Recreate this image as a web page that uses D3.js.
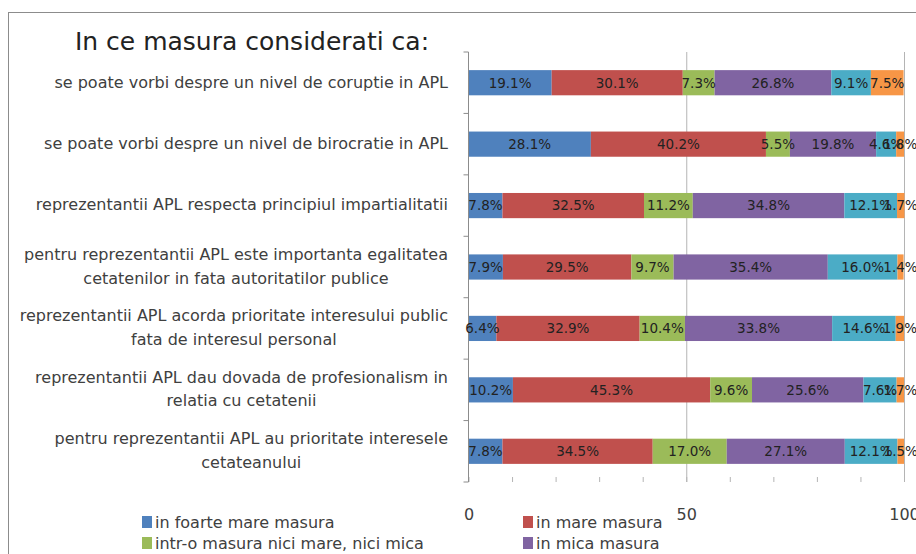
<!DOCTYPE html>
<html>
<head>
<meta charset="utf-8">
<script src="https://cdn.jsdelivr.net/npm/d3@7"></script>
<style>
  body { margin: 0; background: #fff; }
  svg { display: block; font-family: "DejaVu Sans", sans-serif; }
</style>
</head>
<body>
<svg width="916" height="554"></svg>
<script>
// categories, top to bottom (\n = line break like in the excel label)
const categories = [
    "se poate vorbi despre un nivel de coruptie in APL",
    "se poate vorbi despre un nivel de birocratie in APL",
    "reprezentantii APL respecta principiul impartialitatii",
    "pentru reprezentantii APL este importanta egalitatea\ncetatenilor in fata autoritatilor publice",
    "reprezentantii APL acorda prioritate interesului public\nfata de interesul personal",
    "reprezentantii APL dau dovada de profesionalism in\nrelatia cu cetatenii",
    "pentru reprezentantii APL au prioritate interesele\ncetateanului"
];

const seriesNames = [
    "in foarte mare masura",
    "in mare masura",
    "intr-o masura nici mare, nici mica",
    "in mica masura",
    "in foarte mica masura",
    "nu stiu / nu raspund"
];

// percent values per series, same order as categories
const foarteMare = [19.1, 28.1, 7.8, 7.9, 6.4, 10.2, 7.8];
const mare       = [30.1, 40.2, 32.5, 29.5, 32.9, 45.3, 34.5];
const niciNici   = [7.3, 5.5, 11.2, 9.7, 10.4, 9.6, 17.0];
const mica       = [26.8, 19.8, 34.8, 35.4, 33.8, 25.6, 27.1];
const foarteMica = [9.1, 4.6, 12.1, 16.0, 14.6, 7.6, 12.1];
const nuStiu     = [7.5, 1.8, 1.7, 1.4, 1.9, 1.7, 1.5];

const xTicks = [0, 50, 100];

const colors = ["#4f81bd", "#c0504d", "#9bbb59", "#8064a2", "#4bacc6", "#f79646"];

const seriesValues = [foarteMare, mare, niciNici, mica, foarteMica, nuStiu];
const table = categories.map((c, i) => {
    const row = {cat: c};
    seriesNames.forEach((s, j) => row[s] = seriesValues[j][i]);
    return row;
});

const plotLeft = 468.5, plotRight = 904, plotTop = 52, plotBottom = 482;

const svg = d3.select("svg");

// outer chart frame (cut off on right / bottom like the screenshot)
svg.append("rect")
    .attr("x", 8.5).attr("y", 12.5)
    .attr("width", 1000).attr("height", 1000)
    .attr("fill", "none").attr("stroke", "#8c8c8c");

svg.append("text")
    .attr("x", 252).attr("y", 50)
    .attr("text-anchor", "middle")
    .attr("font-size", "25px").attr("fill", "#222")
    .text("In ce masura considerati ca:");

const x = d3.scaleLinear().domain([0, 100]).range([plotLeft, plotRight]);
const y = d3.scaleBand().domain(categories).range([plotTop, plotBottom])
    .paddingInner(0.59).paddingOuter(0.295);

// gridlines at 50 / 100
svg.append("g")
    .attr("transform", `translate(0, ${plotBottom})`)
    .call(d3.axisBottom(x).tickValues([50, 100]).tickSize(-(plotBottom - plotTop)).tickFormat(""))
    .call(g => g.select(".domain").remove())
    .call(g => g.selectAll("line").attr("stroke", "#b4b4b4"));

// minor ticks every 10, pointing up into the plot
svg.append("g")
    .attr("transform", `translate(0, ${plotBottom})`)
    .call(d3.axisTop(x).ticks(10).tickSize(5).tickFormat(""))
    .call(g => g.select(".domain").remove())
    .call(g => g.selectAll("line").attr("stroke", "#b4b4b4"));

// x tick labels
svg.append("g")
    .attr("transform", `translate(0, 514)`)
    .call(d3.axisBottom(x).tickValues(xTicks).tickSize(0).tickPadding(0))
    .call(g => g.select(".domain").remove())
    .call(g => g.selectAll("text")
        .attr("font-family", "DejaVu Sans").attr("font-size", "16px")
        .attr("fill", "#404040").attr("dy", "0.35em"));

// bars
const stacked = d3.stack().keys(seriesNames)(table);

const layers = svg.append("g").selectAll("g")
    .data(stacked)
    .enter().append("g")
    .attr("fill", (d, i) => colors[i]);

layers.selectAll("rect")
    .data(d => d)
    .enter().append("rect")
    .attr("x", d => x(d[0]))
    .attr("y", d => y(d.data.cat))
    .attr("width", d => x(d[1]) - x(d[0]))
    .attr("height", y.bandwidth());

// vertical axis with ticks on category boundaries
svg.append("line")
    .attr("x1", plotLeft).attr("x2", plotLeft)
    .attr("y1", plotTop).attr("y2", plotBottom)
    .attr("stroke", "#8c8c8c");

svg.append("g").selectAll("line")
    .data(d3.range(categories.length + 1))
    .enter().append("line")
    .attr("x1", plotLeft - 5).attr("x2", plotLeft)
    .attr("y1", i => plotTop + i * y.step())
    .attr("y2", i => plotTop + i * y.step())
    .attr("stroke", "#8c8c8c");

// data labels (drawn on top of all bars)
stacked.forEach(layer => {
    svg.append("g").selectAll("text")
        .data(layer)
        .enter().append("text")
        .attr("x", d => x((d[0] + d[1]) / 2))
        .attr("y", d => y(d.data.cat) + y.bandwidth() / 2)
        .attr("dy", "0.36em")
        .attr("text-anchor", "middle")
        .attr("font-size", "13.5px")
        .attr("fill", "#222")
        .text(d => (d[1] - d[0]).toFixed(1) + "%");
});

// category labels, right aligned block, lines centered to each other
const labelRight = 448, lineGap = 23.5;
categories.forEach(c => {
    const lines = c.split("\n");
    const cy = y(c) + y.bandwidth() / 2;
    const g = svg.append("g");
    const texts = g.selectAll("text")
        .data(lines)
        .enter().append("text")
        .attr("y", (d, i) => cy + (i - (lines.length - 1) / 2) * lineGap)
        .attr("dy", "0.3em")
        .attr("text-anchor", "middle")
        .attr("font-size", "16px")
        .attr("fill", "#404040")
        .text(d => d);
    let maxW = 0;
    texts.each(function() { maxW = Math.max(maxW, this.getComputedTextLength()); });
    texts.attr("x", labelRight - maxW / 2);
});

// legend, two columns (third row falls below the picture)
const legend = svg.append("g");
seriesNames.forEach((s, i) => {
    const row = legend.append("g")
        .attr("transform", `translate(${i % 2 === 0 ? 142 : 523}, ${522 + Math.floor(i / 2) * 21})`);
    row.append("rect")
        .attr("x", 0).attr("y", -6)
        .attr("width", 10).attr("height", 12)
        .attr("fill", colors[i]);
    row.append("text")
        .attr("x", 13).attr("dy", "0.35em")
        .attr("font-size", "16px").attr("fill", "#404040")
        .text(s);
});
</script>
</body>
</html>
